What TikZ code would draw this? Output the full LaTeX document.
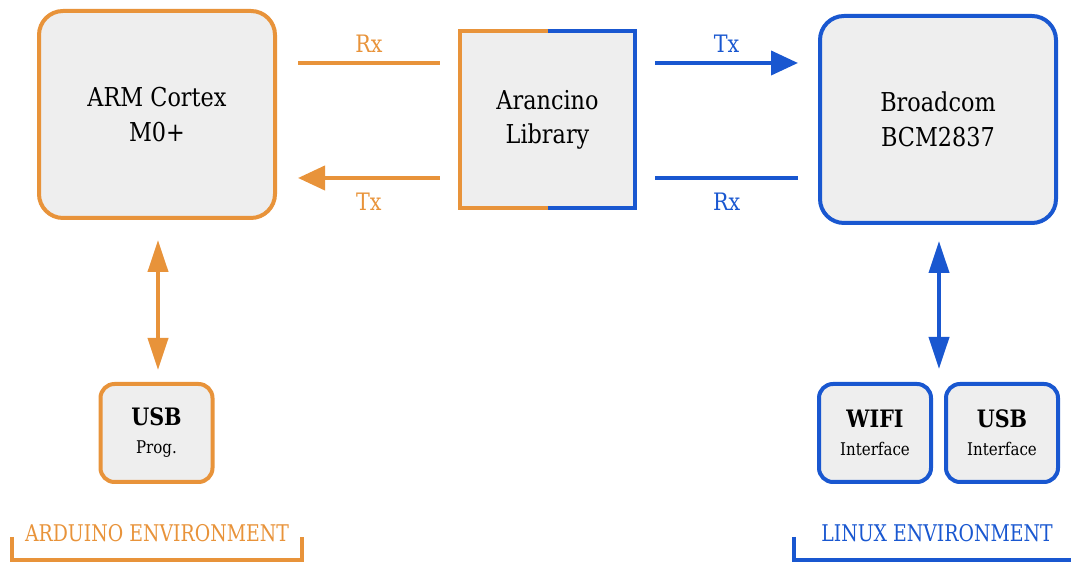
\documentclass[tikz,border=0pt]{standalone}
\usepackage{fontspec}
\setmainfont[FakeStretch=0.86]{DejaVu Serif}
\newfontfamily\envfont[FakeStretch=0.82]{DejaVu Serif}
\usepackage{tikz}
\usetikzlibrary{arrows.meta,positioning}

\definecolor{ardorange}{HTML}{E8933A}
\definecolor{linblue}{HTML}{1957D0}
\definecolor{boxgray}{HTML}{EEEEEE}

\begin{document}
\begin{tikzpicture}[x=1pt,y=1pt,
    bigbox/.style={draw=#1,line width=4pt,fill=boxgray,rounded corners=24pt,
        minimum width=236pt,minimum height=207pt,align=center,
        font=\fontsize{26}{35}\selectfont},
    smallbox/.style={draw=#1,line width=4pt,fill=boxgray,rounded corners=14pt,
        minimum width=112pt,minimum height=98pt,align=center,inner sep=0pt,
        font=\fontsize{17.5}{28}\selectfont},
    link/.style={line width=4pt},
    harrow/.style={link,-{Triangle[length=27pt,width=24pt]}},
    varrow/.style={link,{Triangle[length=32pt,width=20pt]}-{Triangle[length=32pt,width=20pt]}},
    lbl/.style={font=\fontsize{24}{28}\selectfont},
    envlbl/.style={font=\envfont\fontsize{23}{26}\selectfont}]
    \useasboundingbox (0,0) rectangle (1071,577);

    % draw main blocks
    \node[bigbox=ardorange] (arm) at (157,462.5) {ARM Cortex\\M0+};
    \node[bigbox=linblue] (bcm) at (938,457.5) {Broadcom\\BCM2837};
    \node[fill=boxgray,minimum width=175pt,minimum height=177pt,align=center,
        font=\fontsize{26}{34}\selectfont] (lib) at (547.5,457.5) {Arancino\\Library};
    \draw[link,ardorange,line join=miter] (lib.north) -- (lib.north west) -- (lib.south west) -- (lib.south);
    \draw[link,linblue,line join=miter] (lib.north) -- (lib.north east) -- (lib.south east) -- (lib.south);

    % draw small blocks
    \node[smallbox=ardorange] (usbprog) at (156.5,144)
        {{\fontsize{24}{28}\selectfont\bfseries USB}\\Prog.};
    \node[smallbox=linblue] (wifi) at (875,144)
        {{\fontsize{24}{28}\selectfont\bfseries WIFI}\\Interface};
    \node[smallbox=linblue] (usbif) at (1002,144)
        {{\fontsize{24}{28}\selectfont\bfseries USB}\\Interface};
    \path (wifi.north) -- (usbif.north) coordinate[midway] (ifaces);

    % draw arduino side links
    \draw[link,ardorange] ([xshift=21pt,yshift=51.5pt]arm.east) -- ([xshift=-20pt,yshift=56.5pt]lib.west)
        node[midway,yshift=19pt,lbl] (armrx) {Rx};
    \draw[harrow,ardorange] ([xshift=-20pt,yshift=-58.5pt]lib.west) -- ([xshift=21pt,yshift=-63.5pt]arm.east)
        node[midway,yshift=-24pt,lbl] (armtx) {Tx};

    % draw linux side links
    \draw[harrow,linblue] ([xshift=20pt,yshift=56.5pt]lib.east) -- ([xshift=-20pt,yshift=56.5pt]bcm.west)
        node[midway,yshift=19pt,lbl] (bcmtx) {Tx};
    \draw[link,linblue] ([xshift=20pt,yshift=-58.5pt]lib.east) -- ([xshift=-20pt,yshift=-58.5pt]bcm.west)
        node[midway,yshift=-24pt,lbl] (bcmrx) {Rx};

    % draw vertical links
    \draw[varrow,ardorange] ([xshift=1pt,yshift=-20pt]arm.south) -- ([xshift=1.5pt,yshift=12pt]usbprog.north);
    \draw[varrow,linblue] ([xshift=1pt,yshift=-16pt]bcm.south) -- ([xshift=0.5pt,yshift=13pt]ifaces);

    % draw environment labels
    \node[envlbl,text=ardorange] (ardenv) at (157,44) {ARDUINO ENVIRONMENT};
    \node[envlbl,text=linblue] (linenv) at (937,44) {LINUX ENVIRONMENT};
    \draw[link,ardorange] (12,40) -- (12,17) -- (302,17) -- (302,40);
    \draw[link,linblue] (794,40) -- (794,17) -- (1080,17);
\end{tikzpicture}
\end{document}
